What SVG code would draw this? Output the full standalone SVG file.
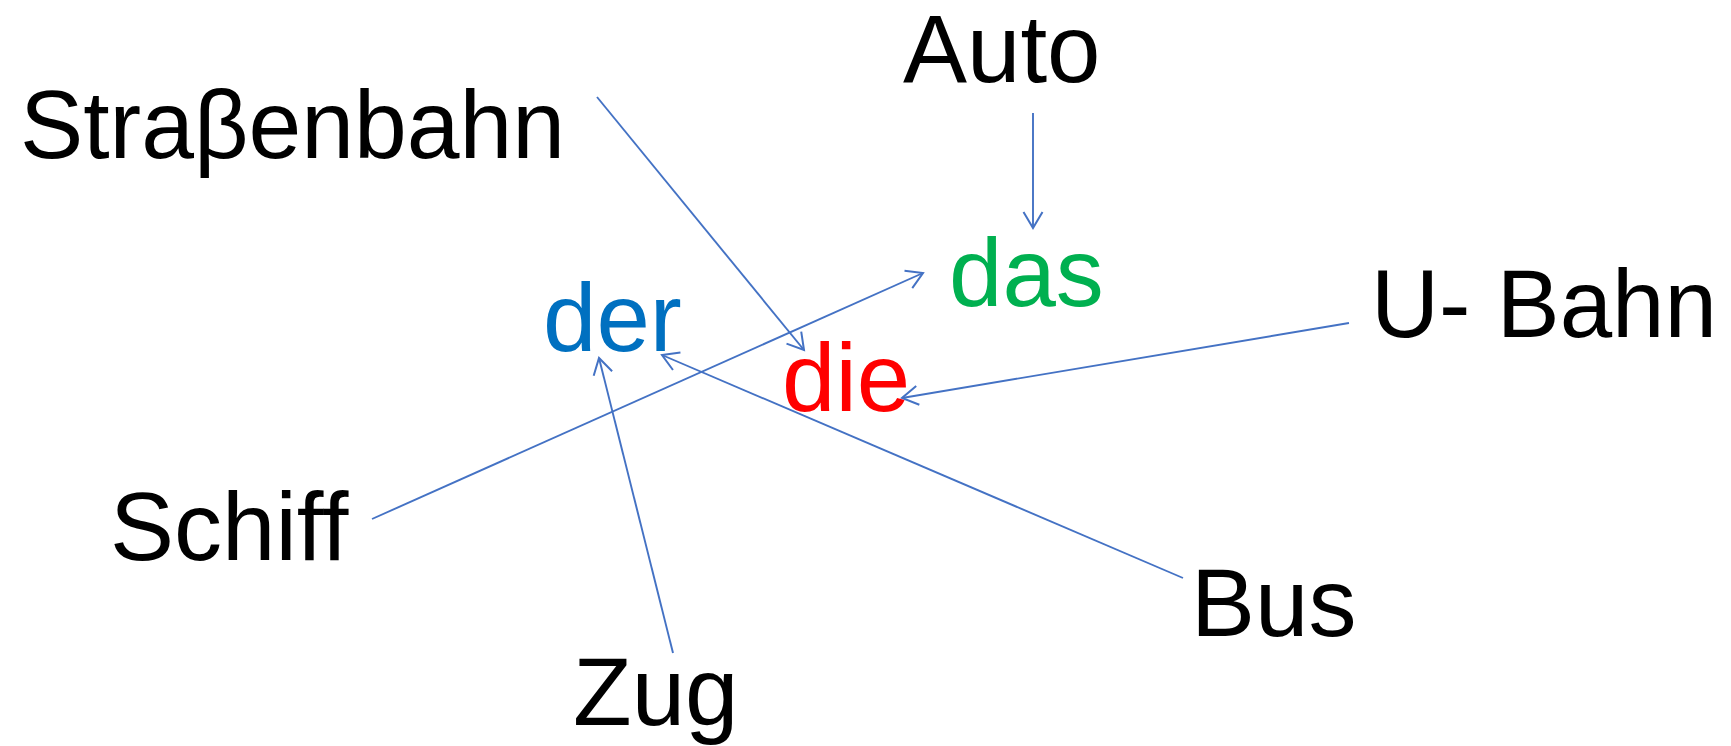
<svg xmlns="http://www.w3.org/2000/svg" width="1731" height="746" viewBox="0 0 1731 746">
<style>
text { font-family: "Liberation Sans", Arial, sans-serif; font-size: 96px; fill: #000; }
.der { fill: #0070C0; }
.das { fill: #00B050; }
.die { fill: #FF0000; }
.c { stroke: #4472C4; stroke-width: 1.9; fill: none; marker-end: url(#arr); }
</style>
<defs>
<marker id="arr" markerUnits="userSpaceOnUse" markerWidth="24" markerHeight="24" viewBox="-20 -12 24 24" refX="0" refY="0" orient="auto">
<path d="M-16,-9.5 L0,0 L-16,9.5" fill="none" stroke="#4472C4" stroke-width="2"/>
</marker>
</defs>
<rect width="1731" height="746" fill="#fff"/>
<g id="connectors">
<line class="c" x1="597" y1="97" x2="804" y2="350"/>
<line class="c" x1="1033" y1="113" x2="1033" y2="228"/>
<line class="c" x1="372" y1="519" x2="923" y2="273"/>
<line class="c" x1="1349" y1="323" x2="902" y2="398"/>
<line class="c" x1="1183" y1="578" x2="662" y2="355"/>
<line class="c" x1="673" y1="653" x2="599" y2="358"/>
</g>
<g id="strassenbahn"><text x="20" y="158" textLength="545" lengthAdjust="spacingAndGlyphs">Straβenbahn</text></g>
<g id="auto"><text x="903" y="82">Auto</text></g>
<g id="das"><text class="das" x="949" y="306">das</text></g>
<g id="der"><text class="der" x="543" y="351">der</text></g>
<g id="die"><text class="die" x="782" y="411">die</text></g>
<g id="ubahn"><text x="1371" y="337" textLength="346" lengthAdjust="spacingAndGlyphs">U- Bahn</text></g>
<g id="schiff"><text x="110" y="560">Schiff</text></g>
<g id="zug"><text x="573" y="725">Zug</text></g>
<g id="bus"><text x="1191" y="636">Bus</text></g>
</svg>
